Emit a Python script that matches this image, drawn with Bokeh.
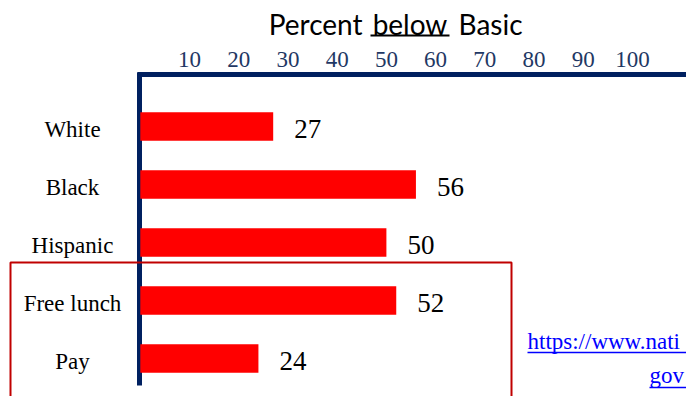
from bokeh.plotting import figure
from bokeh.models import Range1d, BoxAnnotation, ColumnDataSource
from bokeh.core.properties import value
from bokeh.embed import file_html
from bokeh.resources import INLINE

# Reading achievement: share of students below Basic, by group
groups = ["White", "Black", "Hispanic", "Free lunch", "Pay"]
pct_below_basic = [27, 56, 50, 52, 24]
x_ticks = [10, 20, 30, 40, 50, 60, 70, 80, 90, 100]
title_words = ["Percent", "below", "Basic"]
link_lines = ["https://www.nati", "gov"]

W, H = 686, 396
PX_PER_PCT = 4.922      # horizontal scale, pixels per percentage point
ZERO_PX = 139.8         # canvas x of 0 %
ROW_PX = 58.0           # vertical spacing between groups
FIRST_ROW_PX = 126.0    # canvas y of the first group


def X(px):
    """canvas x pixel -> data x (percent)"""
    return (px - ZERO_PX) / PX_PER_PCT


def Y(py):
    """canvas y pixel -> data y (row index)"""
    return (py - FIRST_ROW_PX) / ROW_PX


NAVY = "#002060"
TICK_BLUE = "#1F3864"
RED = "#FF0000"
BOX_RED = "#C00000"
LINK = "#0000FF"
SERIF = "Liberation Serif"
SANS = "Lato"

p = figure(
    width=W, height=H,
    x_range=Range1d(X(0), X(W)),
    y_range=Range1d(Y(H), Y(0)),
    x_axis_location=None, y_axis_location=None,
    toolbar_location=None,
    output_backend="svg",
    min_border=0,
    outline_line_color=None,
    background_fill_color="white",
    border_fill_color="white",
)
p.xgrid.visible = False
p.ygrid.visible = False

rows = list(range(len(groups)))
src = ColumnDataSource(dict(
    pos=rows,
    pct=pct_below_basic,
    label=[str(v) for v in pct_below_basic],
    group=groups,
))

# Red box grouping the lunch-status rows
p.add_layout(BoxAnnotation(left=X(10), right=X(511), top=Y(262), bottom=Y(420),
                           fill_alpha=0, line_color=BOX_RED, line_alpha=1,
                           line_width=2))

# Axis frame: heavy navy rule along the top and down the left
p.segment(x0=[X(137)], y0=[Y(74)], x1=[X(W + 5)], y1=[Y(74)],
          line_color=NAVY, line_width=5, line_cap="butt")
p.segment(x0=[X(139)], y0=[Y(72)], x1=[X(139)], y1=[Y(385)],
          line_color=NAVY, line_width=5, line_cap="butt")

# Percent scale along the top
p.text(x=x_ticks, y=[Y(58.5)] * len(x_ticks), text=[str(t) for t in x_ticks],
       text_align="center", text_baseline="middle",
       text_font=value(SERIF), text_font_size="23px", text_color=TICK_BLUE)

# Bars and value labels
p.hbar(y="pos", left=0, right="pct", height=0.49, source=src,
       fill_color=RED, line_color=None)
p.text(x="pct", y="pos", text="label", source=src, x_offset=21, y_offset=2,
       text_baseline="middle", text_align="left",
       text_font=value(SERIF), text_font_size="27px", text_color="black")

# Group names to the left of the rule
p.text(x=X(72), y="pos", text="group", source=src, y_offset=3,
       text_baseline="middle", text_align="center",
       text_font=value(SERIF), text_font_size="23px", text_color="black")

# Title, with "below" underlined
p.text(x=[X(362), X(409.5), X(458)], y=[Y(23.5)] * 3, text=title_words,
       text_align=["right", "center", "left"], text_baseline="middle",
       text_font=value(SANS), text_font_size="28px", text_color="black")
p.segment(x0=[X(370)], y0=[Y(35)], x1=[X(449)], y1=[Y(35)],
          line_color="black", line_width=2, line_cap="butt")

# Source link
p.text(x=[X(527), X(649)], y=[Y(340.5), Y(374.5)], text=link_lines,
       text_align="left", text_baseline="middle",
       text_font=value(SERIF), text_font_size="23px", text_color=LINK)
p.segment(x0=[X(527), X(649)], y0=[Y(352), Y(387)], x1=[X(W), X(W)],
          y1=[Y(352), Y(387)], line_color=LINK, line_width=1.5, line_cap="butt")

open("out.html", "w").write(file_html(p, INLINE))
